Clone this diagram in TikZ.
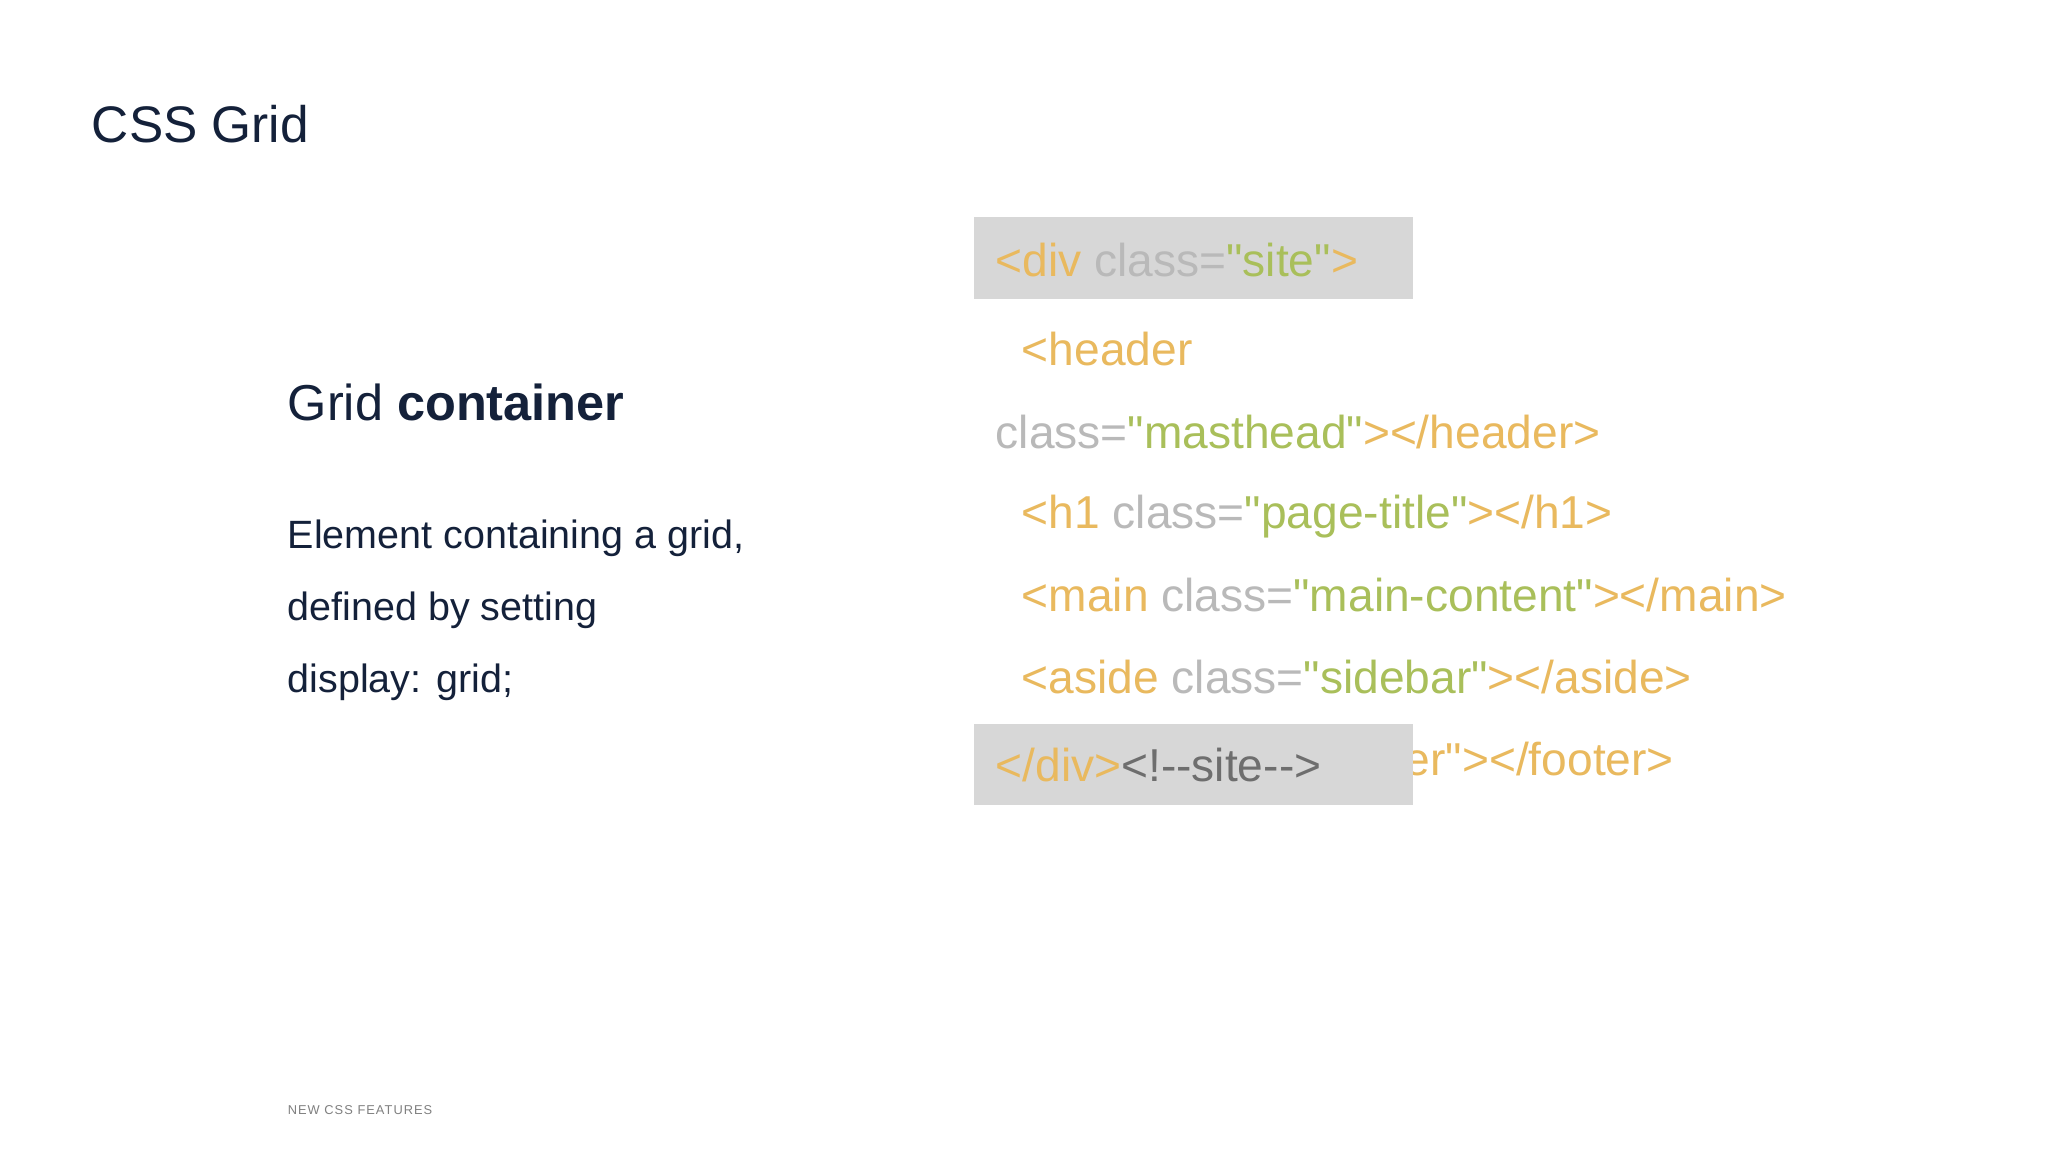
\documentclass[tikz,border=0pt]{standalone}
\usepackage{fontspec}
\setmainfont{Liberation Sans}
\newfontfamily\codefont{Liberation Sans}
\definecolor{navy}{HTML}{14213A}
\definecolor{org}{HTML}{E9B95E}
\definecolor{gry}{HTML}{B9B9B9}
\definecolor{grn}{HTML}{A9BF5A}
\definecolor{boxg}{HTML}{D7D7D7}
\definecolor{dgry}{HTML}{6E6E6E}
\begin{document}
\begin{tikzpicture}[x=0.02cm,y=-0.02cm,
  txt/.style={anchor=base west,inner sep=0pt},
  code/.style={txt,font=\codefont\fontsize{20.1pt}{24pt}\selectfont},
  body/.style={txt,text=navy,font=\fontsize{17.2pt}{20pt}\selectfont}]
\useasboundingbox[fill=white] (0,0) rectangle (1568,882);
\node[txt,text=navy,font=\fontsize{22.4pt}{26pt}\selectfont] (title) at (70,109) {CSS Grid};
\node[txt,text=navy,font=\fontsize{22pt}{26pt}\selectfont] (sub) at (220,322) {Grid \textbf{container}};
\node[body] (b1) at (220,420) {Element containing a grid,};
\node[body] (b2) at (220,475) {defined by setting};
\node[body] (b3) at (220,530) {display: grid;};
\node[txt,text=gray,font=\fontsize{5.6pt}{7pt}\selectfont\addfontfeature{LetterSpace=8}] (foot) at (220,853) {NEW CSS FEATURES};
\fill[boxg] (746,166) rectangle (1082,229);
\node[code] (c1) at (762,212) {\color{org}<div \color{gry}class=\color{grn}"site"\color{org}>};
\node[code] (c2) at (782,280) {\color{org}<header};
\node[code] (c3) at (762,343) {\color{gry}class=\color{grn}"masthead"\color{org}></header>};
\node[code] (c4) at (782,405) {\color{org}<h1 \color{gry}class=\color{grn}"page-title"\color{org}></h1>};
\node[code] (c5) at (782,468) {\color{org}<main \color{gry}class=\color{grn}"main-content"\color{org}></main>};
\node[code] (c6) at (782,531) {\color{org}<aside \color{gry}class=\color{grn}"sidebar"\color{org}></aside>};
\node[code] (c7) at (782,594) {\color{org}<footer \color{gry}class=\color{grn}"foot\color{org}er"></footer>};
\fill[boxg] (746,554) rectangle (1082,616);
\node[code] (c8) at (762,598) {\color{org}</div>\color{dgry}<!--site-->};
\end{tikzpicture}
\end{document}
